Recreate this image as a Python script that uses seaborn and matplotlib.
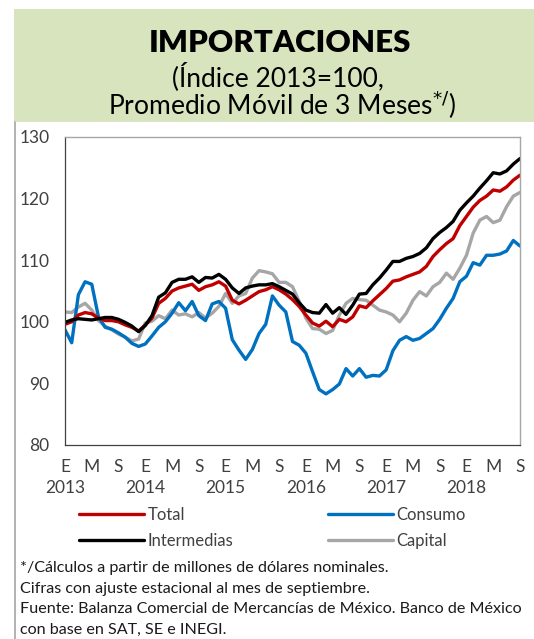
import numpy as np
import pandas as pd
import matplotlib
matplotlib.use("Agg")
import matplotlib.pyplot as plt
import seaborn as sns
from matplotlib.patches import Rectangle
from matplotlib.lines import Line2D

# monthly index, Jan 2013 .. Sep 2018
meses = list(range(69))

total = [99.6, 100.0, 101.1, 101.5, 101.3, 100.6, 100.2, 100.2, 100.0, 99.5,
         99.1, 98.5, 99.5, 100.6, 103.0, 103.8, 105.0, 105.5, 105.8, 106.1,
         105.1, 105.7, 106.0, 106.5, 105.8, 103.5, 102.9, 103.5, 104.2, 104.9,
         105.2, 105.7, 105.2, 104.5, 103.6, 102.5, 101.1, 99.8, 99.3, 100.1,
         99.2, 100.4, 100.0, 100.8, 102.6, 102.3, 103.4, 104.4, 105.4, 106.6,
         106.8, 107.3, 107.7, 108.1, 109.0, 110.6, 111.7, 112.7, 113.5, 115.6,
         117.1, 118.6, 119.7, 120.4, 121.4, 121.2, 121.9, 123.0, 123.8]

intermedias = [99.9, 100.3, 100.5, 100.4, 100.3, 100.5, 100.7, 100.7, 100.4, 99.9,
               99.3, 98.4, 99.4, 101.0, 104.0, 104.7, 106.4, 106.9, 106.9, 107.3,
               106.4, 107.2, 107.1, 107.7, 106.9, 105.5, 104.6, 105.5, 105.8, 106.0,
               106.0, 106.2, 105.7, 105.1, 104.5, 103.1, 101.9, 101.5, 101.4, 102.8,
               101.4, 102.3, 101.2, 102.7, 104.5, 104.6, 106.0, 107.1, 108.4, 109.8,
               109.8, 110.3, 110.6, 111.1, 112.0, 113.5, 114.5, 115.3, 116.3, 118.1,
               119.3, 120.4, 121.7, 122.9, 124.2, 124.0, 124.5, 125.6, 126.5]

consumo = [98.7, 96.6, 104.4, 106.5, 106.1, 100.8, 99.1, 98.8, 98.2, 97.5,
           96.5, 96.0, 96.4, 97.7, 99.1, 100.0, 101.4, 103.1, 101.8, 103.3,
           101.0, 100.2, 102.9, 103.3, 102.2, 97.1, 95.4, 93.9, 95.5, 98.1,
           99.6, 104.2, 102.7, 101.6, 96.8, 96.2, 94.9, 91.9, 89.0, 88.3,
           89.0, 89.9, 92.4, 91.2, 92.4, 91.0, 91.3, 91.2, 92.2, 95.3,
           97.0, 97.6, 97.0, 97.3, 98.1, 98.9, 100.4, 102.2, 103.8, 106.5,
           107.4, 109.6, 109.2, 110.8, 110.8, 111.0, 111.5, 113.2, 112.3]

capital = [101.6, 101.5, 102.4, 103.0, 101.9, 100.2, 99.3, 98.7, 98.0, 97.5,
           96.9, 97.2, 99.8, 100.1, 101.0, 100.5, 101.9, 101.1, 101.3, 100.8,
           101.5, 100.6, 101.4, 102.5, 104.6, 103.0, 104.2, 104.6, 107.1, 108.3,
           108.1, 107.8, 106.4, 106.4, 105.7, 103.3, 100.6, 98.9, 98.8, 98.1,
           98.6, 101.1, 103.0, 103.8, 103.6, 103.5, 102.7, 101.9, 101.6, 101.1,
           100.0, 101.4, 103.5, 104.9, 104.2, 105.7, 106.4, 107.9, 106.9, 108.7,
           110.8, 114.4, 116.5, 117.1, 116.1, 116.5, 118.7, 120.4, 121.0]

series = ["Total", "Consumo", "Intermedias", "Capital"]
colores = {"Total": "#c00000", "Consumo": "#0070c0",
           "Intermedias": "#000000", "Capital": "#a6a6a6"}
anios = ["2013", "2014", "2015", "2016", "2017", "2018"]
meses_lbl = ["E", "M", "S"]

df = pd.DataFrame({"mes": meses, "Total": total, "Consumo": consumo,
                   "Intermedias": intermedias, "Capital": capital})
largo = df.melt(id_vars="mes", var_name="serie", value_name="indice")

sns.set_style("white")
plt.rcParams["font.family"] = ["Lato", "DejaVu Sans"]

fig = plt.figure(figsize=(5.34, 6.39), dpi=100)
ax = fig.add_axes([65 / 534, 1 - 445 / 639, 455 / 534, 308 / 639])

# draw capital first so it sits behind, like the original
orden = ["Capital", "Consumo", "Total", "Intermedias"]
for s in orden:
    sns.lineplot(data=largo[largo.serie == s], x="mes", y="indice",
                 color=colores[s], lw=2.4, ax=ax, legend=False)

ax.set_xlim(0, 68)
ax.set_ylim(80, 130)
ax.set_yticks(range(80, 131, 10))
ax.set_xlabel("")
ax.set_ylabel("")

etiquetas = []
for i in range(6):
    for j, m in enumerate(meses_lbl):
        etiquetas.append(m + "\n" + anios[i] if j == 0 else m)
ax.set_xticks(range(0, 69, 4))
ax.set_xticklabels(etiquetas, linespacing=1.4)

ax.tick_params(axis="x", direction="inout", length=8, width=0.8,
               color="#404040", labelsize=12.5, labelcolor="#404040", pad=6)
ax.tick_params(axis="y", length=0, labelsize=12.5, labelcolor="#404040", pad=11)

for lado in ["left", "bottom"]:
    ax.spines[lado].set_color("#404040")
    ax.spines[lado].set_linewidth(0.9)
for lado in ["top", "right"]:
    ax.spines[lado].set_visible(True)
    ax.spines[lado].set_color("#a6a6a6")
    ax.spines[lado].set_linewidth(1.0)

# header box
fig.patches.append(Rectangle((14 / 534, 1 - 122 / 639), 1 - 14 / 534, 113 / 639,
                             transform=fig.transFigure, facecolor="#d7e4bd",
                             edgecolor="none", zorder=0))
fig.lines.append(Line2D([14.5 / 534, 14.5 / 534], [0, 1 - 122 / 639],
                        transform=fig.transFigure, color="#a6a6a6", lw=1.2))

fig.text(280 / 534, 1 - 43 / 639, "IMPORTACIONES", ha="center", va="center",
         fontsize=22.5, fontweight="heavy", color="black")
fig.text(278 / 534, 1 - 77 / 639, "(Índice 2013=100,", ha="center", va="center",
         fontsize=19, color="black")
fig.text(282 / 534, 1 - 105 / 639, "Promedio Móvil de 3 Meses$^{*/}$)", ha="center",
         va="center", fontsize=19, color="black")

handles = [Line2D([], [], color=colores[s], lw=2.4) for s in
           ["Total", "Intermedias", "Consumo", "Capital"]]
fig.legend(handles, ["Total", "Intermedias", "Consumo", "Capital"], ncol=2,
           loc="center left", bbox_to_anchor=(64 / 534, 1 - 528 / 639),
           frameon=False, fontsize=12, handlelength=3.9, handletextpad=0.2,
           columnspacing=5.7, labelspacing=0.6, labelcolor="#404040")

notas = ["*/Cálculos a partir de millones de dólares nominales.",
         "Cifras con ajuste estacional al mes de septiembre.",
         "Fuente: Balanza Comercial de Mercancías de México. Banco de México",
         "con base en SAT, SE e INEGI."]
for k, n in enumerate(notas):
    fig.text(20 / 534, 1 - (568 + k * 20.5) / 639, n, ha="left", va="center",
             fontsize=11.6, color="#1a1a1a")

fig.savefig("out.png", dpi=100)
